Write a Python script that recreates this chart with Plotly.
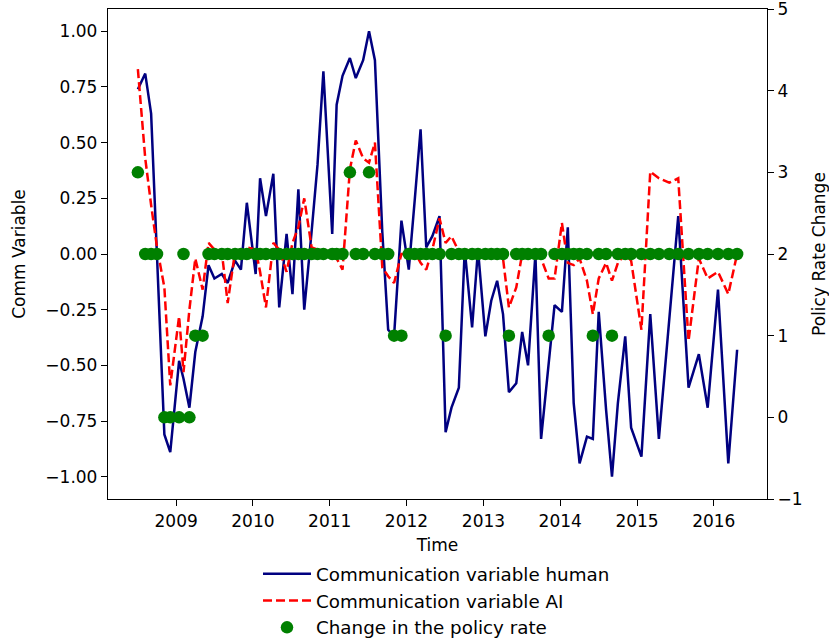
import plotly.graph_objects as go

# ECB monetary policy meeting dates
dates = [
    "2008-07-03", "2008-08-07", "2008-09-04", "2008-10-02", "2008-11-06", "2008-12-04",
    "2009-01-15", "2009-02-05", "2009-03-05", "2009-04-02", "2009-05-07", "2009-06-04",
    "2009-07-02", "2009-08-06", "2009-09-03", "2009-10-08", "2009-11-05", "2009-12-03",
    "2010-01-14", "2010-02-04", "2010-03-04", "2010-04-08", "2010-05-06", "2010-06-10",
    "2010-07-08", "2010-08-05", "2010-09-02", "2010-10-07", "2010-11-04", "2010-12-02",
    "2011-01-13", "2011-02-03", "2011-03-03", "2011-04-07", "2011-05-05", "2011-06-09",
    "2011-07-07", "2011-08-04", "2011-09-08", "2011-10-06", "2011-11-03", "2011-12-08",
    "2012-01-12", "2012-02-09", "2012-03-08", "2012-04-04", "2012-05-03", "2012-06-06",
    "2012-07-05", "2012-08-02", "2012-09-06", "2012-10-04", "2012-11-08", "2012-12-06",
    "2013-01-10", "2013-02-07", "2013-03-07", "2013-04-04", "2013-05-02", "2013-06-06",
    "2013-07-04", "2013-08-01", "2013-09-05", "2013-10-02", "2013-11-07", "2013-12-05",
    "2014-01-09", "2014-02-06", "2014-03-06", "2014-04-03", "2014-05-08", "2014-06-05",
    "2014-07-03", "2014-08-07", "2014-09-04", "2014-10-02", "2014-11-06", "2014-12-04",
    "2015-01-22", "2015-03-05", "2015-04-15", "2015-06-03", "2015-07-16", "2015-09-03",
    "2015-10-22", "2015-12-03",
    "2016-01-21", "2016-03-10", "2016-04-21",
]

comm_human = [
    0.74, 0.81, 0.63, 0.02, -0.81, -0.89,
    -0.48, -0.56, -0.69, -0.44, -0.28, -0.05,
    -0.11, -0.09, -0.13, -0.03, -0.07, 0.23,
    -0.09, 0.34, 0.17, 0.36, -0.24, 0.09,
    -0.18, 0.29, -0.25, 0.10, 0.40, 0.82,
    0.09, 0.67, 0.80, 0.88, 0.79, 0.87,
    1.00, 0.87, 0.10, -0.34, -0.37, 0.15,
    -0.07, 0.24, 0.56, 0.03, 0.08, 0.17,
    -0.80, -0.69, -0.60, 0.02, -0.33, 0.02,
    -0.37, -0.21, -0.12, -0.27, -0.62, -0.58,
    -0.35, -0.50, 0.00, -0.83, -0.48, -0.23,
    -0.26, 0.12, -0.67, -0.94, -0.82, -0.83,
    -0.26, -0.70, -1.00, -0.67, -0.37, -0.78,
    -0.91, -0.27, -0.83, -0.28, 0.17, -0.60,
    -0.45, -0.69,
    -0.16, -0.94, -0.43,
]

comm_ai = [
    0.83, 0.43, 0.22, 0.03, -0.15, -0.59,
    -0.28, -0.53, -0.25, -0.02, -0.16, 0.05,
    0.02, 0.01, -0.22, 0.01, -0.02, 0.03,
    0.02, -0.08, -0.24, 0.05, 0.02, -0.08,
    0.05, 0.12, 0.25, 0.03, 0.02, 0.01,
    0.00, -0.02, -0.07, 0.38, 0.51, 0.43,
    0.41, 0.50, -0.06, -0.10, -0.13, 0.00,
    0.00, 0.01, -0.04, -0.07, 0.02, 0.16,
    0.05, 0.08, 0.01, 0.00, 0.00, 0.01,
    0.00, 0.00, 0.01, -0.02, -0.24, -0.15,
    0.00, 0.01, 0.00, -0.02, -0.11, -0.11,
    0.14, -0.04, -0.05, -0.02, -0.12, -0.27,
    -0.11, -0.04, -0.12, -0.04, 0.00, -0.03,
    -0.34, 0.37, 0.34, 0.32, 0.34, -0.39,
    -0.02, -0.11,
    -0.08, -0.18, 0.00,
]

policy_rate_change = [
    3, 2, 2, 2, 0, 0,
    0, 2, 0, 1, 1, 2,
    2, 2, 2, 2, 2, 2,
    2, 2, 2, 2, 2, 2,
    2, 2, 2, 2, 2, 2,
    2, 2, 2, 3, 2, 2,
    3, 2, 2, 2, 1, 1,
    2, 2, 2, 2, 2, 2,
    1, 2, 2, 2, 2, 2,
    2, 2, 2, 2, 1, 2,
    2, 2, 2, 2, 1, 2,
    2, 2, 2, 2, 2, 1,
    2, 2, 1, 2, 2, 2,
    2, 2, 2, 2, 2, 2,
    2, 2,
    2, 2, 2,
]

year_ticks = ["2009-01-01", "2010-01-01", "2011-01-01", "2012-01-01",
              "2013-01-01", "2014-01-01", "2015-01-01", "2016-01-01"]
year_labels = ["2009", "2010", "2011", "2012", "2013", "2014", "2015", "2016"]
left_ticks = [-1.0, -0.75, -0.5, -0.25, 0.0, 0.25, 0.5, 0.75, 1.0]
right_ticks = [-1, 0, 1, 2, 3, 4, 5]

FONT = "DejaVu Sans"
FS = 17
LEG_FS = 18.3

fig = go.Figure()
fig.add_trace(go.Scatter(
    x=dates, y=comm_human, mode="lines", name="Communication variable human",
    line=dict(color="#000080", width=2.5), yaxis="y", legendgroup="a"))
fig.add_trace(go.Scatter(
    x=dates, y=comm_ai, mode="lines", name="Communication variable AI",
    line=dict(color="#ff0000", width=2.5, dash="9px,4px"), yaxis="y", legendgroup="b"))
fig.add_trace(go.Scatter(
    x=dates, y=policy_rate_change, mode="markers", name="Change in the policy rate",
    marker=dict(color="#008000", size=12.5, line=dict(width=0)), yaxis="y2", legendgroup="c"))

axis_common = dict(showline=True, linecolor="black", linewidth=1.3, ticks="outside",
                   ticklen=6, tickwidth=1.3, tickcolor="black", showgrid=False,
                   zeroline=False, ticklabeloverflow="allow",
                   tickfont=dict(family=FONT, size=FS, color="black"))

fig.update_layout(
    width=829, height=644,
    margin=dict(l=108, r=62, t=9, b=145, autoexpand=False),
    paper_bgcolor="white", plot_bgcolor="white",
    font=dict(family=FONT, size=FS, color="black"),
    xaxis=dict(type="date", range=["2008-02-12", "2016-09-10"],
               tickvals=year_ticks, ticktext=year_labels, mirror=True,
               title=dict(text="Time", font=dict(family=FONT, size=FS), standoff=9),
               **axis_common),
    yaxis=dict(range=[-1.1, 1.1], tickvals=left_ticks, tickformat=".2f", mirror=True,
               title=dict(text="Comm Variable", font=dict(family=FONT, size=FS), standoff=15),
               **axis_common),
    yaxis2=dict(range=[-1, 5.0001], tickvals=right_ticks, overlaying="y", side="right",
                title=dict(text="Policy Rate Change", font=dict(family=FONT, size=FS), standoff=12),
                **axis_common),
    legend=dict(orientation="v", x=(258 - 108) / 659, xanchor="left", y=-0.115, yanchor="top",
                bgcolor="rgba(0,0,0,0)", font=dict(family=FONT, size=LEG_FS),
                tracegroupgap=0, itemwidth=48),
    showlegend=True,
)

fig.write_html("out.html", post_script="document.body.style.margin='0px';",
               config={"displayModeBar": False})
